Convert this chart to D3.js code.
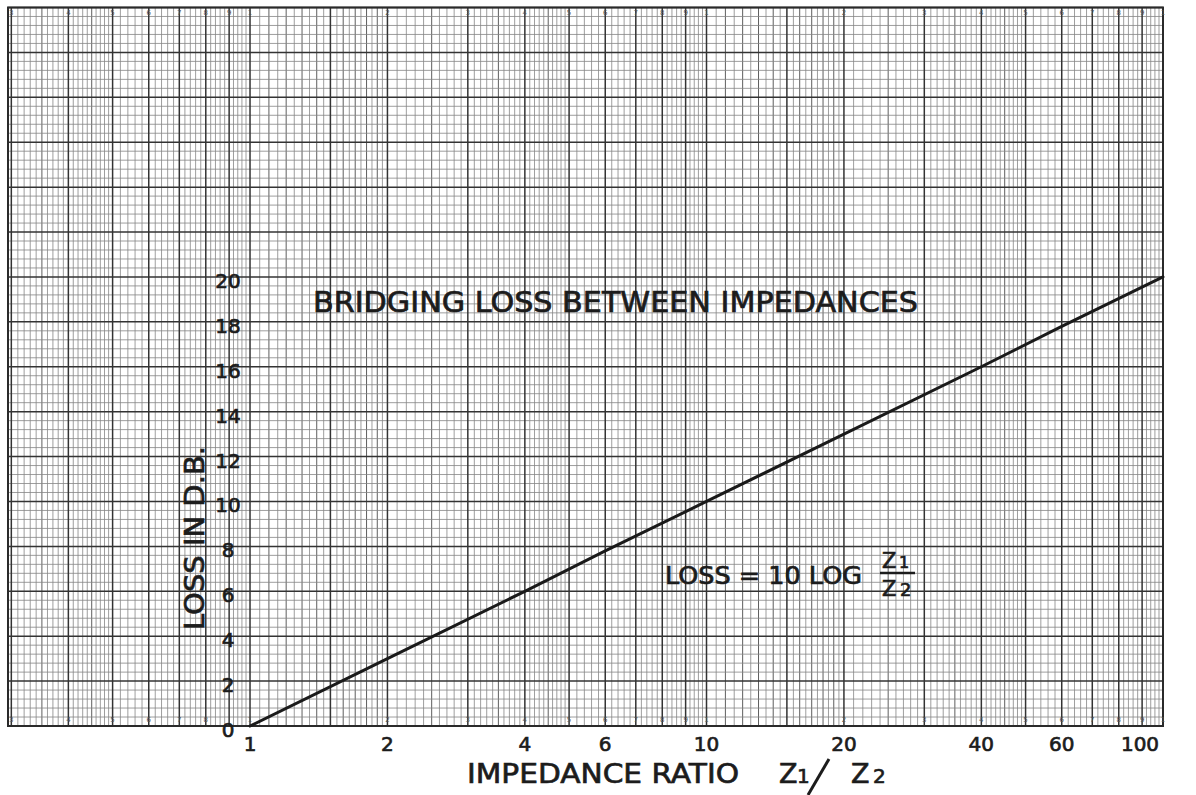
<!DOCTYPE html>
<html>
<head>
<meta charset="utf-8">
<script src="https://cdn.jsdelivr.net/npm/d3@7"></script>
<style>
  html, body { margin: 0; padding: 0; background: #fff; }
  svg { display: block; }
  text { font-family: "DejaVu Sans", "Liberation Sans", sans-serif; fill: #1c1c1c; }
  text.ink { stroke: #1c1c1c; stroke-width: 0.7px; }
</style>
</head>
<body>
<svg id="chart" width="1196" height="795"></svg>
<script>
// ---- data ----
const ratioValues = [1, 2, 4, 6, 10, 20, 40, 60, 100];
const lossValues  = [0, 3.0, 6.0, 7.8, 10, 13.0, 16.0, 17.8, 20];

const xTickValues = [1, 2, 4, 6, 10, 20, 40, 60, 100];
const xTickLabels = ["1", "2", "4", "6", "10", "20", "40", "60", "100"];
const yTickValues = [0, 2, 4, 6, 8, 10, 12, 14, 16, 18, 20];
const yTickLabels = ["0", "2", "4", "6", "8", "10", "12", "14", "16", "18", "20"];

const titleText  = "BRIDGING LOSS BETWEEN IMPEDANCES";
const yTitleText = "LOSS IN D.B.";
const xTitleText = "IMPEDANCE RATIO";
const formulaText = "LOSS = 10 LOG";

// paper printed cycle digits
const paperDigits = [2, 3, 4, 5, 6, 7, 8, 9];
const decadeBases = [0.1, 1, 10];

// ---- layout ----
const svg = d3.select("#chart");
const x = d3.scaleLog().domain([0.295, 100]).range([8, 1163]);
const y = d3.scaleLinear().domain([0, 32]).range([726, 7.5]);
const [xMin, xMax] = x.domain();
const [yMin, yMax] = y.domain();

const grid = svg.append("g");

// vertical ruling of the log paper
function vLines() {
  const out = [];
  decadeBases.forEach(b => {
    const segs = [[1, 2, 0.05, 0.1, 0.5], [2, 5, 0.1, 0.5, 1], [5, 10, 0.2, 1, 1]];
    segs.forEach(([a, e, step, med, hv]) => {
      const n = Math.round((e - a) / step);
      for (let i = 0; i < n; i++) {
        const v = +(a + i * step).toFixed(3);
        let w = 0;
        if (Math.abs(v - Math.round(v)) < 1e-6) w = 2;
        else if (Math.abs(v / hv - Math.round(v / hv)) < 1e-6) w = 2;
        else if (Math.abs(v / med - Math.round(v / med)) < 1e-6) w = 1;
        out.push({ v: v * b, w });
      }
    });
  });
  out.push({ v: 100, w: 2 });
  return out.filter(d => d.v >= xMin * 0.999 && d.v <= xMax * 1.001);
}
const vl = vLines();
const styleW = w => w === 2 ? { c: "#333", s: 1.5 } : w === 1 ? { c: "#5e5e5e", s: 1.0 } : { c: "#858585", s: 0.8 };

grid.selectAll("line.v").data(vl.filter(d => d.w < 2)).join("line")
  .attr("x1", d => x(d.v)).attr("x2", d => x(d.v))
  .attr("y1", y(yMin)).attr("y2", y(yMax))
  .attr("stroke", d => styleW(d.w).c).attr("stroke-width", d => styleW(d.w).s);

// horizontal ruling
const hl = d3.range(0, 32.001, 0.4).map(v => ({ v: +v.toFixed(2), w: (Math.abs(v / 2 - Math.round(v / 2)) < 1e-6) ? 2 : 0 }));
grid.selectAll("line.h").data(hl.filter(d => d.w < 2)).join("line")
  .attr("x1", x(xMin)).attr("x2", x(xMax))
  .attr("y1", d => y(d.v)).attr("y2", d => y(d.v))
  .attr("stroke", d => styleW(d.w).c).attr("stroke-width", d => styleW(d.w).s);

// heavy lines on top
grid.selectAll("line.vh").data(vl.filter(d => d.w === 2)).join("line")
  .attr("x1", d => x(d.v)).attr("x2", d => x(d.v))
  .attr("y1", y(yMin)).attr("y2", y(yMax))
  .attr("stroke", "#333").attr("stroke-width", 1.5);
grid.selectAll("line.hh").data(hl.filter(d => d.w === 2)).join("line")
  .attr("x1", x(xMin)).attr("x2", x(xMax))
  .attr("y1", d => y(d.v)).attr("y2", d => y(d.v))
  .attr("stroke", "#333").attr("stroke-width", 1.5);

// border
grid.append("rect")
  .attr("x", x(xMin)).attr("y", y(yMax))
  .attr("width", x(xMax) - x(xMin)).attr("height", y(yMin) - y(yMax))
  .attr("fill", "none").attr("stroke", "#2a2a2a").attr("stroke-width", 2);

// tiny printed cycle digits on the paper
const digitData = [];
decadeBases.forEach(b => {
  paperDigits.forEach(dg => { if (dg * b >= xMin) digitData.push({ v: dg * b, t: String(dg) }); });
  if (b * 10 <= xMax) digitData.push({ v: b * 10, t: "1" });
});
["top", "bottom"].forEach(pos => {
  const dd = pos === "top" ? digitData : digitData.filter(d => Math.abs(d.v - 0.9) > 1e-6);
  svg.append("g").selectAll("text").data(dd).join("text")
    .attr("x", d => x(d.v)).attr("y", pos === "top" ? 15 : 722)
    .attr("text-anchor", "middle").attr("font-size", 7).style("fill", "#555")
    .text(d => d.t);
});

// ---- the data line ----
const line = d3.line().x((d, i) => x(ratioValues[i])).y(d => y(d));
svg.append("path").datum(lossValues)
  .attr("d", line).attr("fill", "none")
  .attr("stroke", "#1a1a1a").attr("stroke-width", 3).attr("stroke-linecap", "round");

// ---- tick labels ----
svg.append("g").selectAll("text").data(yTickValues).join("text")
  .attr("class", "ink")
  .attr("x", 228).attr("y", d => y(d) + 11)
  .attr("text-anchor", "middle").attr("font-size", 20)
  .text((d, i) => yTickLabels[i]);

svg.append("g").selectAll("text").data(xTickValues).join("text")
  .attr("class", "ink")
  .attr("x", d => d === 100 ? x(d) - 23 : x(d))
  .attr("y", 751)
  .attr("text-anchor", "middle").attr("font-size", 20)
  .text((d, i) => xTickLabels[i]);

// ---- titles ----
svg.append("text").attr("class", "ink").attr("x", 313).attr("y", 312)
  .attr("font-size", 28).attr("textLength", 605).attr("lengthAdjust", "spacingAndGlyphs")
  .text(titleText);

svg.append("text").attr("class", "ink")
  .attr("transform", "translate(204,630) rotate(-90)")
  .attr("font-size", 27).attr("textLength", 184).attr("lengthAdjust", "spacingAndGlyphs")
  .text(yTitleText);

svg.append("text").attr("class", "ink").attr("x", 467).attr("y", 783)
  .attr("font-size", 27).attr("textLength", 272).attr("lengthAdjust", "spacingAndGlyphs")
  .text(xTitleText);
svg.append("text").attr("class", "ink").attr("x", 779).attr("y", 783).attr("font-size", 27).text("Z");
svg.append("text").attr("class", "ink").attr("x", 797).attr("y", 783).attr("font-size", 20).text("1");
svg.append("line").attr("x1", 829).attr("y1", 759).attr("x2", 808).attr("y2", 795)
  .attr("stroke", "#1c1c1c").attr("stroke-width", 3);
svg.append("text").attr("class", "ink").attr("x", 851).attr("y", 783).attr("font-size", 27).text("Z");
svg.append("text").attr("class", "ink").attr("x", 873).attr("y", 783).attr("font-size", 20).text("2");

// formula
svg.append("text").attr("class", "ink").attr("x", 665).attr("y", 584)
  .attr("font-size", 24).attr("textLength", 197).attr("lengthAdjust", "spacingAndGlyphs")
  .text(formulaText);
svg.append("text").attr("class", "ink").attr("x", 882).attr("y", 568).attr("font-size", 21).text("Z");
svg.append("text").attr("class", "ink").attr("x", 899).attr("y", 568).attr("font-size", 16).text("1");
svg.append("line").attr("x1", 880).attr("x2", 915).attr("y1", 573).attr("y2", 573)
  .attr("stroke", "#1c1c1c").attr("stroke-width", 2.5);
svg.append("text").attr("class", "ink").attr("x", 882).attr("y", 596).attr("font-size", 21).text("Z");
svg.append("text").attr("class", "ink").attr("x", 900).attr("y", 596).attr("font-size", 18).text("2");
</script>
</body>
</html>
